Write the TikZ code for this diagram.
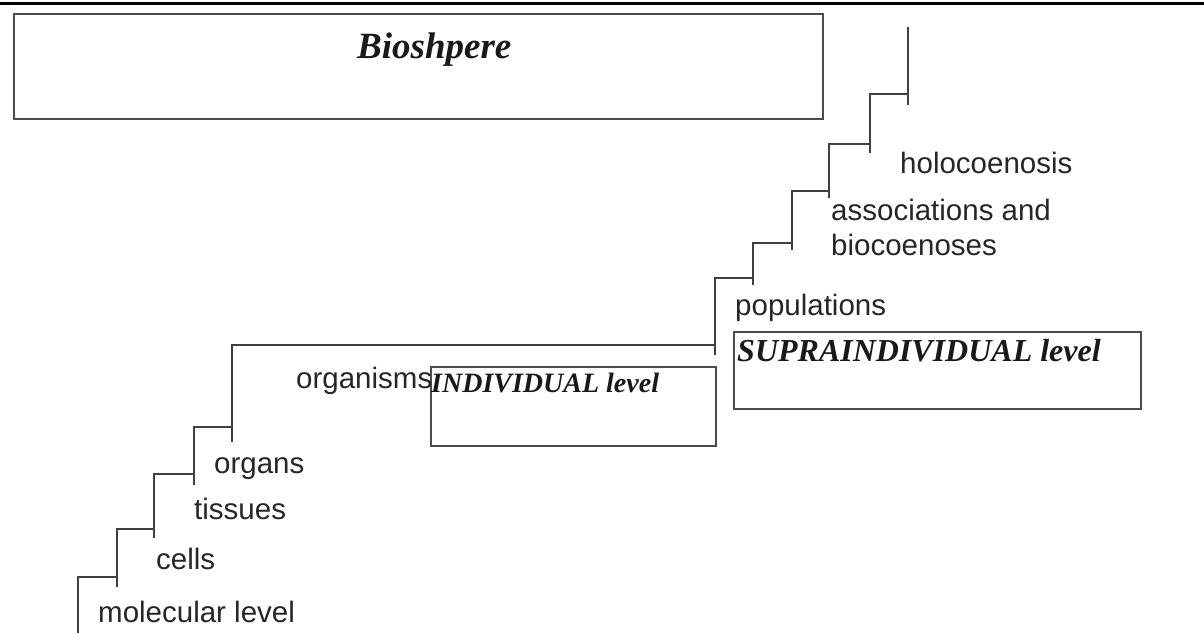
\documentclass[tikz,border=0pt]{standalone}
\usepackage{fontspec}
\usepackage{tikz}
\usetikzlibrary{positioning}
\newfontfamily\levelfont{Liberation Sans}
\newfontfamily\boxfont{Liberation Serif}

\begin{document}
\begin{tikzpicture}[
       x=1pt, y=-1pt,
       stair/.style={
           line width=1.6pt,
           draw=black!75
       },
       levelbox/.style={
           rectangle,
           draw=black!70,
           line width=2pt,
           inner sep=0pt,
           anchor=north west
       },
       levellabel/.style={
           font=\levelfont\fontsize{29.5}{35}\selectfont,
           text=black!85,
           anchor=base west,
           inner sep=0pt
       },
       boxlabel/.style={
           text=black!90,
           anchor=base west,
           inner sep=0pt
       }
   ]
   \useasboundingbox (0,0) rectangle (1204,633);

   % page rule
   \draw[line width=3pt] (0,3) -- (1204,3);

   % Boxes
   \node[levelbox, minimum width=809pt, minimum height=105pt] (biobox) at (13,13) {};
   \node[levelbox, minimum width=285pt, minimum height=79pt] (indbox) at (430,366) {};
   \node[levelbox, minimum width=407pt, minimum height=77pt] (supbox) at (733,331) {};

   \node[boxlabel, font=\boxfont\bfseries\itshape\fontsize{37}{44}\selectfont] (bio) at (357,58) {Bioshpere};
   \node[boxlabel, font=\boxfont\bfseries\itshape\fontsize{28}{33}\selectfont] (ind) at (431,392) {INDIVIDUAL level};
   \node[boxlabel, font=\boxfont\bfseries\itshape\fontsize{32}{38}\selectfont] (sup) at (737,361) {SUPRAINDIVIDUAL level};

   % Staircase, lower part
   \draw[stair] (78,633) -- (78,577) -- (117,577);
   \draw[stair] (117,587) -- (117,529) -- (154,529);
   \draw[stair] (154,538) -- (154,474) -- (194,474);
   \draw[stair] (194,485) -- (194,427) -- (232,427);
   \draw[stair] (232,442) -- (232,345) -- (715,345);

   % Staircase, upper part
   \draw[stair] (715,355) -- (715,278) -- (753,278);
   \draw[stair] (753,285) -- (753,243) -- (792,243);
   \draw[stair] (792,250) -- (792,191) -- (829,191);
   \draw[stair] (829,198) -- (829,144) -- (870,144);
   \draw[stair] (870,153) -- (870,94) -- (908,94);
   \draw[stair] (908,105) -- (908,27);

   % Level labels
   \node[levellabel] (molecular) at (98,622) {molecular level};
   \node[levellabel] (cells) at (156,569) {cells};
   \node[levellabel] (tissues) at (194,519) {tissues};
   \node[levellabel] (organs) at (214,473) {organs};
   \node[levellabel] (organisms) at (296,388) {organisms};
   \node[levellabel] (populations) at (735,315) {populations};
   \node[levellabel] (assoc) at (831,220) {associations and};
   \node[levellabel] (bioc) at (831,255) {biocoenoses};
   \node[levellabel] (holo) at (900,173) {holocoenosis};

   \end{tikzpicture}
\end{document}
